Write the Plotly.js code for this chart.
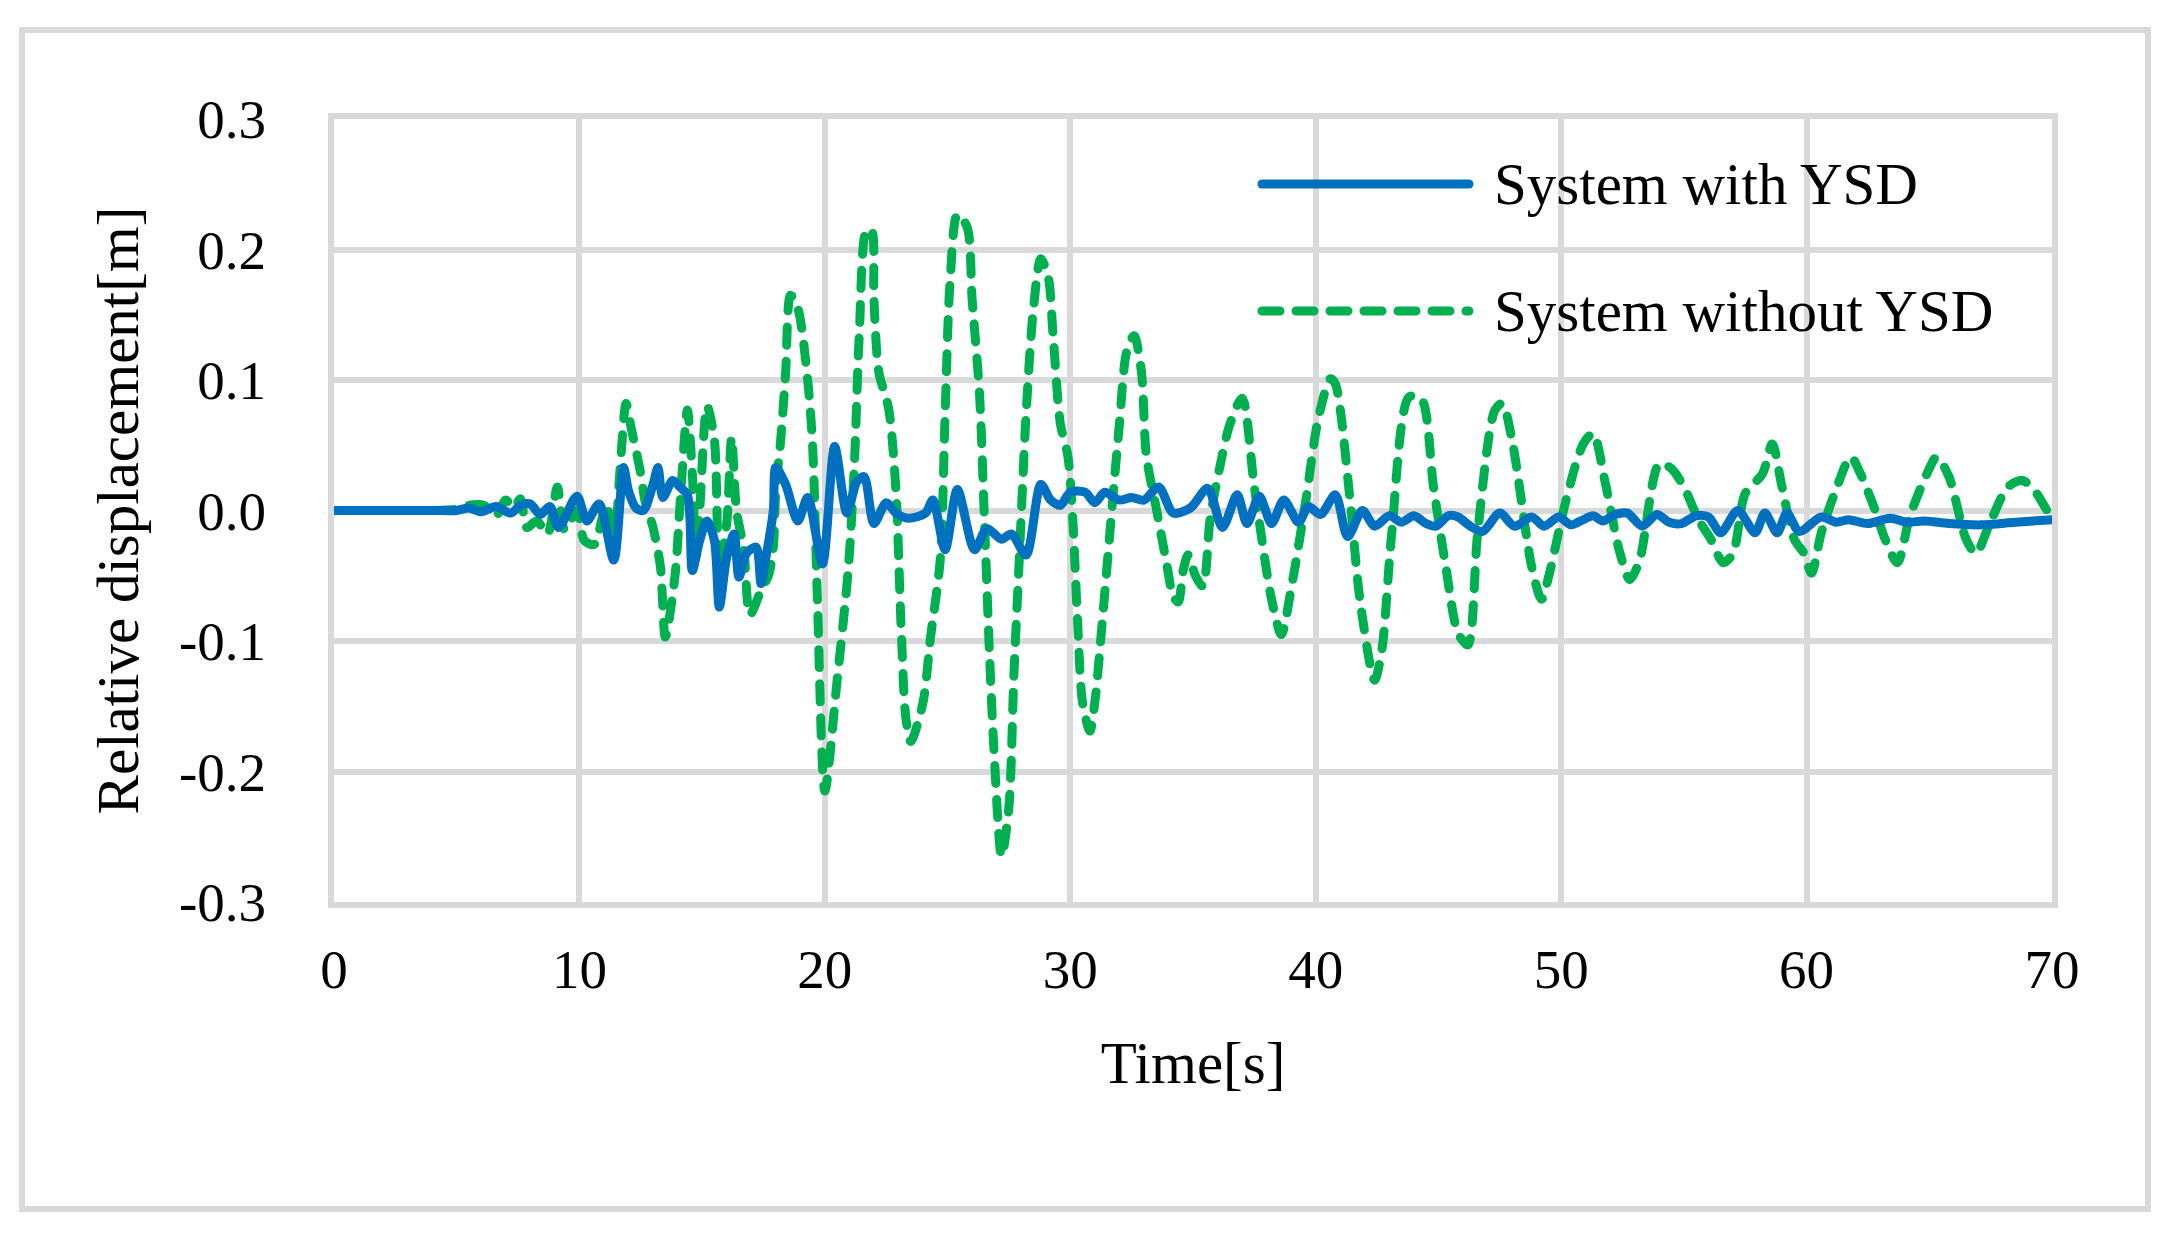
<!DOCTYPE html>
<html>
<head>
<meta charset="utf-8">
<script src="https://cdn.plot.ly/plotly-3.0.1.min.js"></script>
<style>
  html, body { margin: 0; padding: 0; background: #ffffff; }
  #chart { width: 2173px; height: 1244px; }
  .scatterlayer path.js-line { stroke-linecap: round; stroke-linejoin: round; }
  .shapelayer path { stroke-linecap: round; }
</style>
</head>
<body>
<div id="chart"></div>
<script>
// ---- Data ----
var seriesNames = ["System with YSD", "System without YSD"];

var timeWith = [0, 1, 2, 3, 4, 5, 5.5, 6.0, 6.6, 7.2, 7.6, 8.0, 8.4, 8.8, 9.15, 9.9, 10.3, 10.8, 11.4, 11.8,
  12.0, 12.3, 12.6, 13.0, 13.2, 13.4, 13.8, 14.1, 14.4, 14.6, 14.9, 15.2, 15.5, 15.7, 16.0, 16.3, 16.5, 16.8, 17.2, 17.4,
  17.6, 17.9, 18.0, 18.4, 18.9, 19.3, 19.9, 20.4, 20.9, 21.3, 21.6, 22.0, 22.5, 22.9, 23.4, 24.1, 24.4, 24.9, 25.4, 26.1,
  26.6, 27.2, 27.6, 28.2, 28.8, 29.2, 29.6, 30.0, 30.6, 31.0, 31.4, 32.0, 32.5, 33.0, 33.6, 34.2, 34.9, 35.6, 36.2, 36.8,
  37.2, 37.7, 38.2, 38.7, 39.3, 39.7, 40.2, 40.8, 41.3, 41.9, 42.4, 43.0, 43.5, 44.0, 44.5, 44.9, 45.4, 45.8, 46.3, 46.8,
  47.5, 48.1, 48.8, 49.3, 49.9, 50.4, 50.8, 51.3, 51.7, 52.2, 52.7, 53.3, 53.9, 54.4, 54.9, 55.5, 56.0, 56.5, 57.2, 57.9,
  58.3, 58.8, 59.2, 59.7, 60.6, 61.2, 61.7, 62.5, 63.4, 64.1, 64.8, 65.8, 67.1, 68.5, 70];
var dispWith = [0, 0, 0, 0, 0, 0, 0.002, -0.001, 0.003, -0.002, 0.004, 0.005, -0.003, 0.003, -0.013, 0.011, -0.008, 0.005, -0.038, 0.033,
  0.015, 0.002, 0.0, 0.02, 0.033, 0.01, 0.023, 0.018, 0.012, -0.046, -0.023, -0.008, -0.023, -0.074, -0.036, -0.018, -0.051, -0.033, -0.028, -0.056,
  -0.036, 0.0, 0.033, 0.02, -0.008, 0.01, -0.041, 0.049, -0.002, 0.022, 0.026, -0.01, 0.006, -0.002, -0.006, -0.002, 0.008, -0.03, 0.016, -0.03,
  -0.014, -0.022, -0.018, -0.034, 0.02, 0.008, 0.004, 0.014, 0.014, 0.006, 0.014, 0.008, 0.01, 0.008, 0.018, -0.002, 0.002, 0.017, -0.013, 0.012,
  -0.01, 0.011, -0.01, 0.008, -0.009, 0.003, -0.003, 0.012, -0.02, 0.0, -0.012, -0.004, -0.009, -0.004, -0.01, -0.012, -0.004, -0.005, -0.012, -0.016,
  -0.002, -0.012, -0.005, -0.012, -0.005, -0.011, -0.008, -0.004, -0.008, -0.003, -0.002, -0.012, -0.003, -0.009, -0.01, -0.004, -0.005, -0.017, 0.0, -0.017,
  -0.002, -0.017, -0.002, -0.016, -0.005, -0.009, -0.007, -0.01, -0.006, -0.009, -0.008, -0.01, -0.011, -0.009, -0.007];

var timeWithout = [0, 1, 2, 3, 4, 5, 5.5, 6.1, 6.6, 7.0, 7.3, 7.6, 7.85, 8.26, 8.7, 9.1, 9.4, 9.9, 10.2, 10.6,
  11.1, 11.4, 11.65, 11.9, 12.1, 12.47, 12.7, 13.0, 13.3, 13.5, 13.9, 14.1, 14.4, 14.6, 14.75, 14.9, 15.2, 15.5, 15.7, 16.0,
  16.2, 16.4, 16.7, 16.95, 17.4, 17.7, 17.9, 18.0, 18.2, 18.4, 18.6, 18.9, 19.3, 19.5, 19.7, 20.0, 20.5, 20.95, 21.2, 21.4,
  21.7, 21.9, 22.0, 22.2, 22.6, 22.9, 23.1, 23.3, 23.5, 24.0, 24.3, 24.7, 24.9, 25.1, 25.4, 25.8, 26.0, 26.3, 26.5, 26.7,
  26.9, 27.2, 27.5, 27.7, 27.9, 28.2, 28.5, 28.8, 29.1, 29.3, 29.6, 29.9, 30.1, 30.3, 30.5, 30.8, 31.0, 31.3, 31.7, 32.0,
  32.3, 32.6, 32.9, 33.1, 33.5, 33.9, 34.2, 34.4, 34.6, 34.8, 35.1, 35.4, 35.7, 36.1, 36.5, 37.0, 37.5, 38.2, 38.6, 39.0,
  39.6, 40.1, 40.6, 40.8, 41.4, 41.8, 42.4, 42.7, 43.1, 43.8, 44.3, 44.8, 45.3, 45.8, 46.2, 46.6, 47.3, 47.6, 48.0, 48.8,
  49.2, 49.5, 50.2, 50.9, 51.3, 51.8, 52.4, 52.8, 53.2, 54.0, 54.5, 55.0, 55.6, 56.1, 56.6, 57.0, 57.5, 58.2, 58.6, 59.0,
  59.5, 59.9, 60.2, 60.6, 61.2, 61.8, 62.2, 62.8, 63.2, 63.7, 64.2, 64.9, 65.3, 65.8, 66.5, 66.9, 67.4, 68.2, 68.8, 69.3, 69.8, 70];
var dispWithout = [0, 0, 0, 0, 0, 0.001, 0.004, 0.004, -0.004, 0.008, 0.002, 0.009, -0.013, -0.008, -0.018, 0.018, -0.015, 0.0, -0.023, -0.026,
  0.005, -0.03, 0.03, 0.082, 0.064, 0.031, 0.005, -0.013, -0.043, -0.097, -0.049, 0.005, 0.077, 0.028, -0.035, 0.0, 0.08, 0.054, -0.045, -0.01,
  0.056, 0.0, -0.03, -0.08, -0.061, -0.05, -0.028, 0.015, 0.054, 0.105, 0.165, 0.155, 0.1, 0.05, -0.07, -0.215, -0.13, -0.046, 0.034, 0.134,
  0.215, 0.215, 0.162, 0.106, 0.078, 0.014, -0.086, -0.159, -0.177, -0.147, -0.098, -0.038, 0.074, 0.175, 0.227, 0.217, 0.162, 0.09, -0.006, -0.106,
  -0.187, -0.265, -0.227, -0.127, -0.046, 0.074, 0.155, 0.193, 0.179, 0.134, 0.066, 0.042, -0.006, -0.086, -0.147, -0.169, -0.147, -0.086, 0.002, 0.066,
  0.122, 0.134, 0.106, 0.042, 0.002, -0.038, -0.066, -0.07, -0.046, -0.034, -0.05, -0.058, -0.006, 0.034, 0.066, 0.086, 0.018, -0.068, -0.095, -0.06,
  0.008, 0.07, 0.101, 0.097, 0.008, -0.068, -0.13, -0.106, -0.017, 0.087, 0.086, 0.018, -0.043, -0.094, -0.103, -0.017, 0.077, 0.082, 0.054, -0.043,
  -0.068, -0.05, 0.008, 0.051, 0.059, 0.021, -0.033, -0.053, -0.038, 0.036, 0.032, 0.018, -0.007, -0.022, -0.04, -0.033, 0.013, 0.028, 0.051, 0.018,
  -0.022, -0.033, -0.048, -0.017, 0.016, 0.041, 0.028, 0.0, -0.022, -0.04, -0.005, 0.028, 0.041, 0.026, -0.022, -0.033, -0.013, 0.018, 0.023, 0.015, 0.0, -0.005];

var xTickVals = [0, 10, 20, 30, 40, 50, 60, 70];
var yTickVals = [-0.3, -0.2, -0.1, 0.0, 0.1, 0.2, 0.3];
var yTickText = ["-0.3", "-0.2", "-0.1", "0.0", "0.1", "0.2", "0.3"];

// ---- Styling ----
var blue = "#0070C0";
var green = "#00B050";
var grid = "#D9D9D9";
var fontFam = "Liberation Serif, Times New Roman, serif";
var lineW = 9;
var dashPattern = "18px,16px";

// plot area in pixels: x 334..2052, y 119..902
var L = 334, R = 2052, T = 119, B = 902;
function px(x) { return (x - L) / (R - L); }
function py(y) { return (B - y) / (B - T); }

var traces = [
  {
    x: timeWithout, y: dispWithout, type: "scatter", mode: "lines", name: seriesNames[1],
    line: { color: green, width: lineW, dash: dashPattern, shape: "spline", smoothing: 0.8 },
    showlegend: false, hoverinfo: "skip"
  },
  {
    x: timeWith, y: dispWith, type: "scatter", mode: "lines", name: seriesNames[0],
    line: { color: blue, width: lineW, shape: "spline", smoothing: 0.8 },
    showlegend: false, hoverinfo: "skip"
  }
];

var legendX0 = px(1262), legendX1 = px(1469), legendTextX = px(1492);
var legendY = [py(184), py(311)];

var layout = {
  width: 2173, height: 1244,
  paper_bgcolor: "#ffffff", plot_bgcolor: "#ffffff",
  margin: { l: L, r: 2173 - R, t: T, b: 1244 - B, pad: 0 },
  showlegend: false,
  font: { family: fontFam, color: "#000000" },
  xaxis: {
    range: [0, 70], tickvals: xTickVals, ticks: "", ticklabelstandoff: 14,
    showgrid: true, gridcolor: grid, gridwidth: 6, zeroline: false,
    showline: true, mirror: true, linecolor: grid, linewidth: 6,
    tickfont: { family: fontFam, size: 55, color: "#000" },
    title: { text: "Time[s]", font: { family: fontFam, size: 59, color: "#000" }, standoff: 45 },
    fixedrange: true
  },
  yaxis: {
    range: [-0.3, 0.3], tickvals: yTickVals, ticktext: yTickText, ticks: "", ticklabelstandoff: 51,
    showgrid: true, gridcolor: grid, gridwidth: 6, zeroline: false,
    showline: true, mirror: true, linecolor: grid, linewidth: 6,
    tickfont: { family: fontFam, size: 55, color: "#000" },
    title: { text: "Relative displacement[m]", font: { family: fontFam, size: 59, color: "#000" }, standoff: 23 },
    fixedrange: true
  },
  shapes: [
    { type: "rect", xref: "paper", yref: "paper", x0: px(22), x1: px(2148), y0: py(1209), y1: py(30),
      line: { color: grid, width: 6 }, fillcolor: "rgba(0,0,0,0)", layer: "below" },
    { type: "line", xref: "paper", yref: "paper", x0: legendX0, x1: legendX1, y0: legendY[0], y1: legendY[0],
      line: { color: blue, width: lineW } },
    { type: "line", xref: "paper", yref: "paper", x0: legendX0, x1: legendX1, y0: legendY[1], y1: legendY[1],
      line: { color: green, width: lineW, dash: dashPattern } }
  ],
  annotations: [
    { xref: "paper", yref: "paper", x: legendTextX, y: legendY[0], xanchor: "left", yanchor: "middle",
      text: seriesNames[0], showarrow: false, font: { family: fontFam, size: 59, color: "#000" } },
    { xref: "paper", yref: "paper", x: legendTextX, y: legendY[1], xanchor: "left", yanchor: "middle",
      text: seriesNames[1], showarrow: false, font: { family: fontFam, size: 59, color: "#000" } }
  ]
};

Plotly.newPlot("chart", traces, layout, { displayModeBar: false, staticPlot: true });
</script>
</body>
</html>
